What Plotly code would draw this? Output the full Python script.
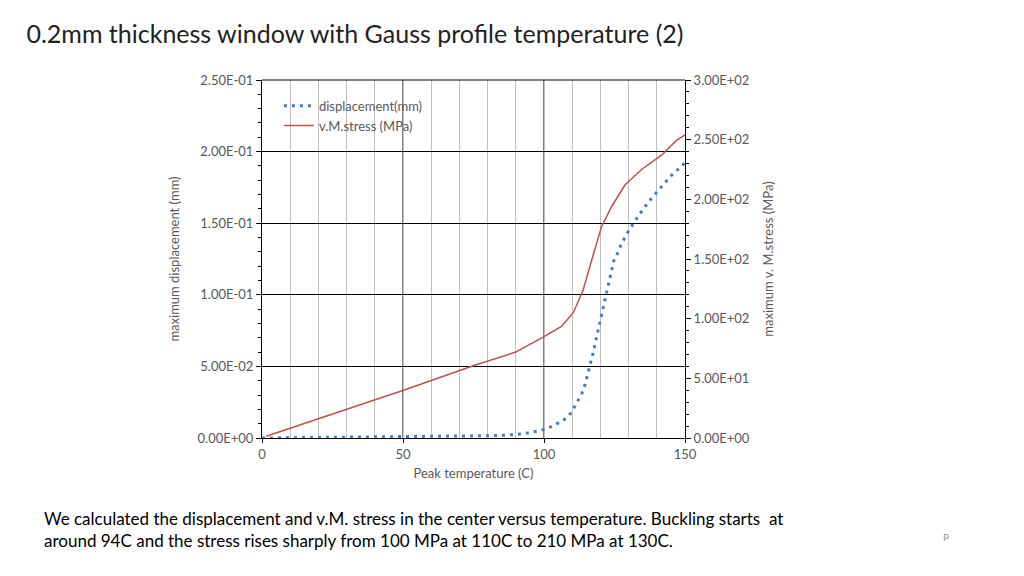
import plotly.graph_objects as go

disp_x = [0, 20, 40, 60, 68.4, 80.2, 86.4, 92.3, 98, 101.3, 106.6, 109, 110.6, 112.1, 113.4, 114.5, 116, 117.5, 118.8, 120, 120.7, 121.3, 122, 123.4, 124.8, 126.1, 127.3, 128.7, 130.1, 131.8, 133.4, 137.1, 141, 145, 149.4, 150]
disp_y = [0, 0.0003, 0.0005, 0.0008, 0.001, 0.0016, 0.002, 0.0028, 0.005, 0.0067, 0.012, 0.016, 0.021, 0.026, 0.031, 0.037, 0.048, 0.060, 0.072, 0.083, 0.089, 0.095, 0.101, 0.112, 0.124, 0.129, 0.135, 0.140, 0.145, 0.150, 0.155, 0.165, 0.174, 0.183, 0.191, 0.192]
stress_x = [1.5, 50.2, 74.9, 90, 100, 106.2, 110.4, 113.9, 116.9, 120.4, 124, 128.7, 134.6, 141.7, 146.8, 150]
stress_y = [1.4, 40, 60.6, 72, 85, 93.5, 105, 124, 149, 177, 194, 212, 225, 237, 249, 254]

left_ticks = [0, 0.05, 0.1, 0.15, 0.2, 0.25]
left_text = ["0.00E+00", "5.00E-02", "1.00E-01", "1.50E-01", "2.00E-01", "2.50E-01"]
right_ticks = [0, 50, 100, 150, 200, 250, 300]
right_text = ["0.00E+00", "5.00E+01", "1.00E+02", "1.50E+02", "2.00E+02", "2.50E+02", "3.00E+02"]

F = "Lato"
fig = go.Figure()
fig.add_trace(go.Scatter(x=disp_x, y=disp_y, mode="lines", name="displacement(mm)",
                         line=dict(color="#4a7ebb", width=3, dash="3px,5px")))
fig.add_trace(go.Scatter(x=stress_x, y=stress_y, mode="lines", name="v.M.stress (MPa)", yaxis="y2",
                         line=dict(color="#c0504d", width=1.5)))

fig.update_layout(
    width=1024, height=576, plot_bgcolor="white", paper_bgcolor="white",
    margin=dict(l=254, r=347, t=72, b=146),
    font=dict(family=F, size=13, color="#595959"),
    title=dict(text="0.2mm thickness window with Gauss profile temperature (2)", x=0.018, xanchor="left",
               y=0.955, yanchor="middle", font=dict(size=25, color="#222222")),
    xaxis=dict(range=[0, 150], tickvals=[0, 50, 100, 150], showgrid=False, showline=True,
               linecolor="black", zeroline=False, ticks="outside", ticklen=4, tickcolor="black",
               title=dict(text="Peak temperature (C)", font=dict(size=13), standoff=8),
               minor=dict(tickvals=list(range(10, 150, 10)), showgrid=True, gridcolor="#c0c0c0")),
    yaxis=dict(range=[0, 0.25], tickvals=left_ticks, ticktext=left_text, showline=True, linecolor="black",
               gridcolor="black", gridwidth=1, zeroline=False, ticks="outside", ticklen=5, tickcolor="black",
               title=dict(text="maximum displacement (mm)", font=dict(size=13)),
               minor=dict(dtick=0.01, ticks="outside", ticklen=3, tickcolor="black")),
    yaxis2=dict(range=[0, 300], tickvals=right_ticks, ticktext=right_text, overlaying="y", side="right",
                showline=True, linecolor="black", showgrid=False, zeroline=False, ticks="outside", ticklen=5,
                tickcolor="black", title=dict(text="maximum v. M.stress (MPa)", font=dict(size=13)),
                minor=dict(dtick=10, ticks="outside", ticklen=3, tickcolor="black")),
    legend=dict(x=0.04, y=0.97, xanchor="left", yanchor="top", bgcolor="rgba(0,0,0,0)",
                font=dict(size=13, color="#595959")),
    shapes=[dict(type="line", xref="x", yref="paper", x0=50, x1=50, y0=0, y1=1, line=dict(color="black", width=1), layer="below"),
            dict(type="line", xref="x", yref="paper", x0=100, x1=100, y0=0, y1=1, line=dict(color="black", width=1), layer="below"),
            dict(type="line", xref="paper", yref="paper", x0=0, x1=1, y0=1, y1=1, line=dict(color="black", width=1))],
    annotations=[
        dict(text="We calculated the displacement and v.M. stress in the center versus temperature. Buckling starts  at<br>around 94C and the stress rises sharply from 100 MPa at 110C to 210 MPa at 130C.",
             xref="paper", yref="paper", x=-0.52, y=-0.19, xanchor="left", yanchor="top", align="left",
             showarrow=False, font=dict(size=17, color="black")),
        dict(text="P", xref="paper", yref="paper", x=1.63, y=-0.3, showarrow=False, font=dict(size=10, color="#999999")),
    ],
)
fig.write_html("out.html")
